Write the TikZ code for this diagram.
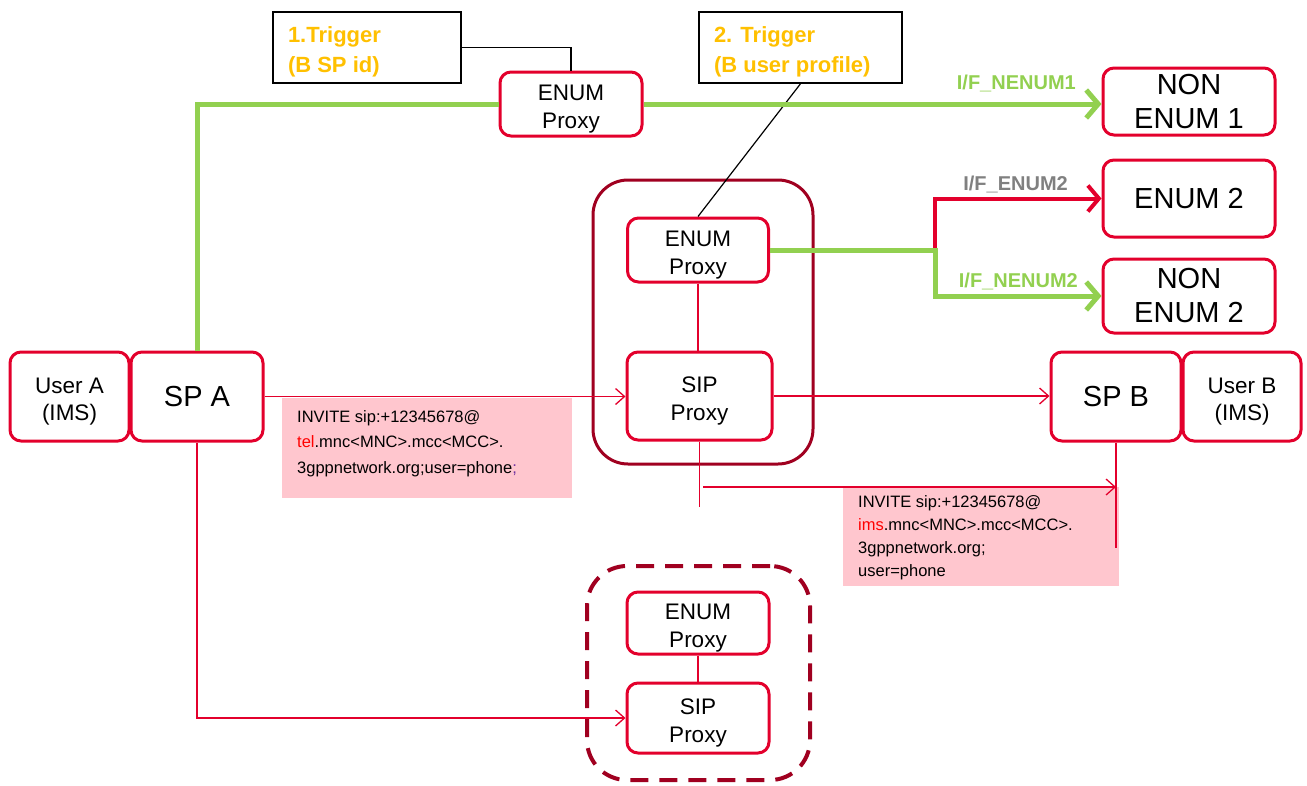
\documentclass[tikz,border=0pt]{standalone}
\usepackage{fontspec}
\setmainfont{Liberation Sans}
\usetikzlibrary{arrows.meta}
\definecolor{nred}{RGB}{227,0,44}
\definecolor{dkred}{RGB}{160,0,32}
\definecolor{lgreen}{RGB}{146,208,80}
\definecolor{trigorange}{RGB}{255,192,0}
\definecolor{pinkc}{RGB}{255,198,206}
\definecolor{semipurple}{RGB}{112,48,160}
\definecolor{labgray}{RGB}{128,128,128}
\begin{document}
\begin{tikzpicture}[x=1pt,y=-1pt,
  box/.style={draw=nred,line width=3pt,rounded corners=11pt,fill=white,align=flush center,inner sep=0pt},
  fmid/.style={font=\fontsize{22.5}{27.5}\selectfont,text width=110pt,execute at begin node={\rule{0pt}{25.5pt}}},
  fbig/.style={font=\fontsize{29}{34}\selectfont},
  trig/.style={draw=black,line width=1.5pt,fill=white,align=flush left,inner xsep=15pt,inner ysep=0pt,
    font=\bfseries\fontsize{22}{30}\selectfont,text=trigorange,execute at begin node={\rule{0pt}{24pt}}},
  pinkbox/.style={fill=pinkc,inner xsep=15pt,inner ysep=0pt,anchor=north west},
  cont/.style={draw=dkred,line width=3pt,rounded corners=35pt},
  gline/.style={draw=lgreen,line width=5pt},
  garrow/.style={gline,-{Straight Barb[length=12pt,width=28pt]}},
  rline/.style={draw=nred,line width=4pt,-{Straight Barb[length=11pt,width=26pt]}},
  rthin/.style={draw=nred,line width=1.3pt},
  rthinarrow/.style={rthin,-{Straight Barb[length=9pt,width=16pt]}},
  blk/.style={draw=black,line width=1.2pt},
  iflab/.style={font=\bfseries\fontsize{20}{24}\selectfont,anchor=base east,inner sep=0pt}
]
\useasboundingbox (0,0) rectangle (1307,785);

% containers
\node[cont,minimum width=220,minimum height=284] (C1) at (703,322) {};
\node[cont,line width=4pt,rounded corners=40pt,dash pattern=on 18pt off 11pt,minimum width=223,minimum height=214] (C2) at (698.5,673) {};

% message boxes
\node[pinkbox] (M1) at (282,398) {\parbox[t][100pt][t]{260pt}{\fontsize{16.5}{25.5}\selectfont
  \rule{0pt}{24pt}INVITE sip:+12345678@\\
  {\color{red}tel}.mnc<MNC>.mcc<MCC>.\\
  3gppnetwork.org;user=phone{\color{semipurple};}}};
\node[pinkbox] (M2) at (843,487) {\parbox[t][99pt][t]{246pt}{\fontsize{16.5}{23}\selectfont
  \rule{0pt}{20pt}INVITE sip:+12345678@\\
  {\color{red}ims}.mnc<MNC>.mcc<MCC>.\\
  3gppnetwork.org;\\
  user=phone}};

% trigger boxes
\node[trig,minimum width=188,minimum height=71,text width=158] (T1) at (367,47.5) {1.Trigger\\(B SP id)};
\node[trig,minimum width=203,minimum height=71,text width=173] (T2) at (800.5,47.5) {2. Trigger\\(B user profile)};

% main nodes
\node[box,fmid,minimum width=119,minimum height=89] (UA) at (69.5,396.5) {User A\\(IMS)};
\node[box,fbig,minimum width=132,minimum height=89] (SPA) at (197,396.5) {SP A};
\node[box,fbig,minimum width=130,minimum height=89] (SPB) at (1116,396.5) {SP B};
\node[box,fmid,minimum width=118,minimum height=89] (UB) at (1242,396.5) {User B\\(IMS)};
\node[box,fmid,minimum width=142,minimum height=64] (EP1) at (571,104) {ENUM\\Proxy};
\node[box,fmid,minimum width=141,minimum height=64] (EP2) at (698,250) {ENUM\\Proxy};
\node[box,fmid,minimum width=145,minimum height=88] (SP2) at (699.5,396) {SIP\\Proxy};
\node[box,fmid,minimum width=142,minimum height=62] (EP3) at (698,623) {ENUM\\Proxy};
\node[box,fmid,minimum width=142,minimum height=70] (SP3) at (698,718) {SIP\\Proxy};
\node[box,fbig,minimum width=172,minimum height=67] (NE1) at (1189,101.5) {NON\\ENUM 1};
\node[box,fbig,minimum width=172,minimum height=77] (E2) at (1189,198.5) {ENUM 2};
\node[box,fbig,minimum width=172,minimum height=74] (NE2) at (1189,296) {NON\\ENUM 2};

% interface labels
\node[iflab,text=lgreen] (L1) at (1076,89) {I/F\_NENUM1};
\node[iflab,text=labgray] (L2) at (1068,190) {I/F\_ENUM2};
\node[iflab,text=lgreen] (L3) at (1078,287) {I/F\_NENUM2};

% trigger connectors
\draw[blk] (T1.east) -| (EP1.north);
\draw[blk] (T2.south) -- (EP2.north);

% green and red interface lines
\draw[gline] (SPA.north) |- (EP1.west);
\draw[garrow] (EP1.east) -- (EP1.east -| NE1.west);
\coordinate (br) at (935,250);
\draw[rline] (br) |- (E2.west);
\draw[garrow] (EP2.east) -- (br) |- (NE2.west);

% internal proxy links
\draw[rthin] (EP2.south) -- (EP2.south |- SP2.north);
\draw[rthin] (EP3.south) -- (EP3.south |- SP3.north);

% SIP signalling
\draw[rthinarrow] (SPA.east) -- (SPA.east -| SP2.west);
\draw[rthinarrow] (SP2.east) -- (SP2.east -| SPB.west);
\coordinate (c1) at (699.5,507);
\draw[rthin] (SP2.south) -- (c1);
\coordinate (c2) at (703,487);
\coordinate (c3) at (1116,487);
\draw[rthinarrow] (c2) -- (c3);
\coordinate (c4) at (1116,548);
\draw[rthin] (SPB.south) -- (c4);
\draw[rthinarrow] (SPA.south) |- (SP3.west);
\end{tikzpicture}
\end{document}
